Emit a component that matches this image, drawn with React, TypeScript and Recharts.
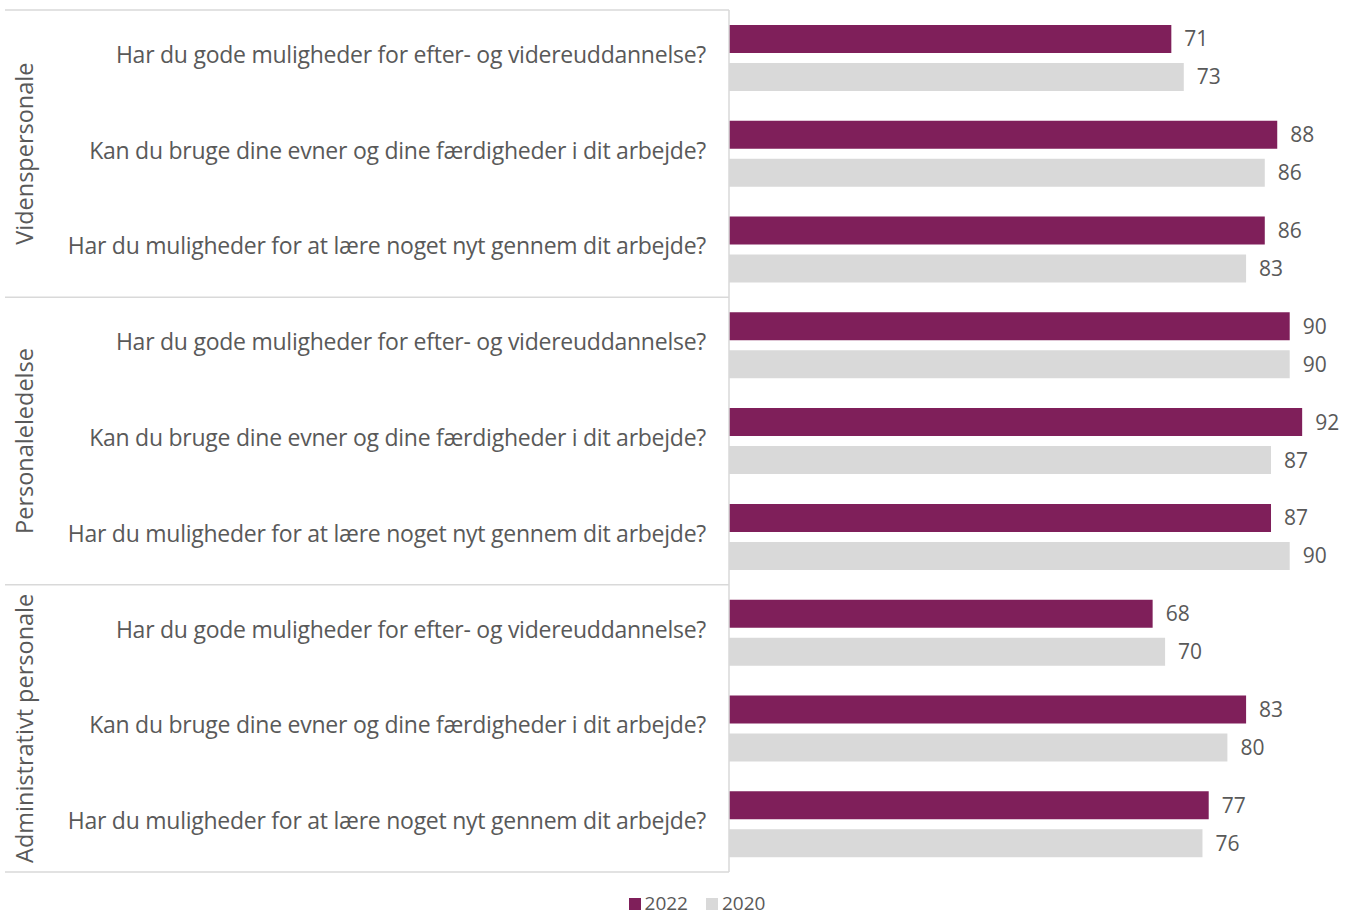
import { BarChart, Bar, XAxis, YAxis, Legend, LabelList } from 'recharts';

const groups = ['Videnspersonale', 'Personaleledelse', 'Administrativt personale'];
const questions = [
  'Har du gode muligheder for efter- og videreuddannelse?',
  'Kan du bruge dine evner og dine færdigheder i dit arbejde?',
  'Har du muligheder for at lære noget nyt gennem dit arbejde?',
];
const values2022 = [71, 88, 86, 90, 92, 87, 68, 83, 77];
const values2020 = [73, 86, 83, 90, 87, 90, 70, 80, 76];
const seriesNames = ['2022', '2020'];

const PURPLE = '#7F1F5A';
const GRAY = '#D9D9D9';
const TEXT = '#595959';
const FONT = '"Open Sans", sans-serif';

const W = 1352;
const H = 917;
const margin = { top: 10, right: 0, left: 0, bottom: 0 };
const axisWidth = 729;
const legendHeight = 45;

const data = values2022.map((v, i) => ({
  id: String(i),
  group: groups[Math.floor(i / 3)],
  question: questions[i % 3],
  y2022: v,
  y2020: values2020[i],
}));

// plot area height, used to place the group separators at band edges
const plotHeight = H - margin.top - margin.bottom - legendHeight;
const band = plotHeight / data.length;

function QuestionTick(props: any) {
  const { x, y, payload } = props;
  const i = Number(payload.value);
  const row = data[i];
  return (
    <g>
      <text
        x={x - 15}
        y={y - 4}
        textAnchor="end"
        dominantBaseline="central"
        fill={TEXT}
        fontSize={23}
        fontFamily={FONT}
        letterSpacing={-0.25}
      >
        {row.question}
      </text>
      {i % 3 === 0 && (
        <line x1={5} x2={axisWidth} y1={y - band / 2} y2={y - band / 2} stroke={GRAY} strokeWidth={1.5} />
      )}
      {i === data.length - 1 && (
        <line x1={5} x2={axisWidth} y1={y + band / 2} y2={y + band / 2} stroke={GRAY} strokeWidth={1.5} />
      )}
      {i % 3 === 1 && (
        <text
          x={24}
          y={y}
          transform={`rotate(-90 24 ${y})`}
          textAnchor="middle"
          dominantBaseline="central"
          fill={TEXT}
          fontSize={23.5}
          fontFamily={FONT}
        >
          {row.group}
        </text>
      )}
    </g>
  );
}

function LegendContent() {
  const colors = [PURPLE, GRAY];
  return (
    <div
      style={{
        height: legendHeight,
        display: 'flex',
        justifyContent: 'center',
        alignItems: 'flex-start',
        paddingTop: 22,
        paddingLeft: 42,
        boxSizing: 'border-box',
        fontFamily: FONT,
        fontSize: 19,
        lineHeight: '19px',
        color: TEXT,
      }}
    >
      {seriesNames.map((name, i) => (
        <span key={name} style={{ display: 'flex', alignItems: 'center', marginRight: i === 0 ? 18 : 0 }}>
          <span style={{ width: 12, height: 12, background: colors[i], marginRight: 4, display: 'inline-block' }} />
          {name}
        </span>
      ))}
    </div>
  );
}

export default function App() {
  return (
    <div style={{ position: 'absolute', left: 0, top: 0, width: W, height: H, overflow: 'hidden', background: '#fff' }}>
      <BarChart
        width={W}
        height={H}
        data={data}
        layout="vertical"
        margin={margin}
        barSize={28}
        barGap={10}
      >
        <XAxis type="number" domain={[0, 100]} hide />
        <YAxis
          type="category"
          dataKey="id"
          width={axisWidth}
          tick={<QuestionTick />}
          tickLine={false}
          axisLine={{ stroke: GRAY, strokeWidth: 1.5 }}
          interval={0}
        />
        <Legend verticalAlign="bottom" height={legendHeight} content={<LegendContent />} />
        <Bar dataKey="y2022" name="2022" fill={PURPLE} isAnimationActive={false}>
          <LabelList dataKey="y2022" position="right" offset={13} fill={TEXT} fontSize={21} fontFamily={FONT} />
        </Bar>
        <Bar dataKey="y2020" name="2020" fill={GRAY} isAnimationActive={false}>
          <LabelList dataKey="y2020" position="right" offset={13} fill={TEXT} fontSize={21} fontFamily={FONT} />
        </Bar>
      </BarChart>
    </div>
  );
}
